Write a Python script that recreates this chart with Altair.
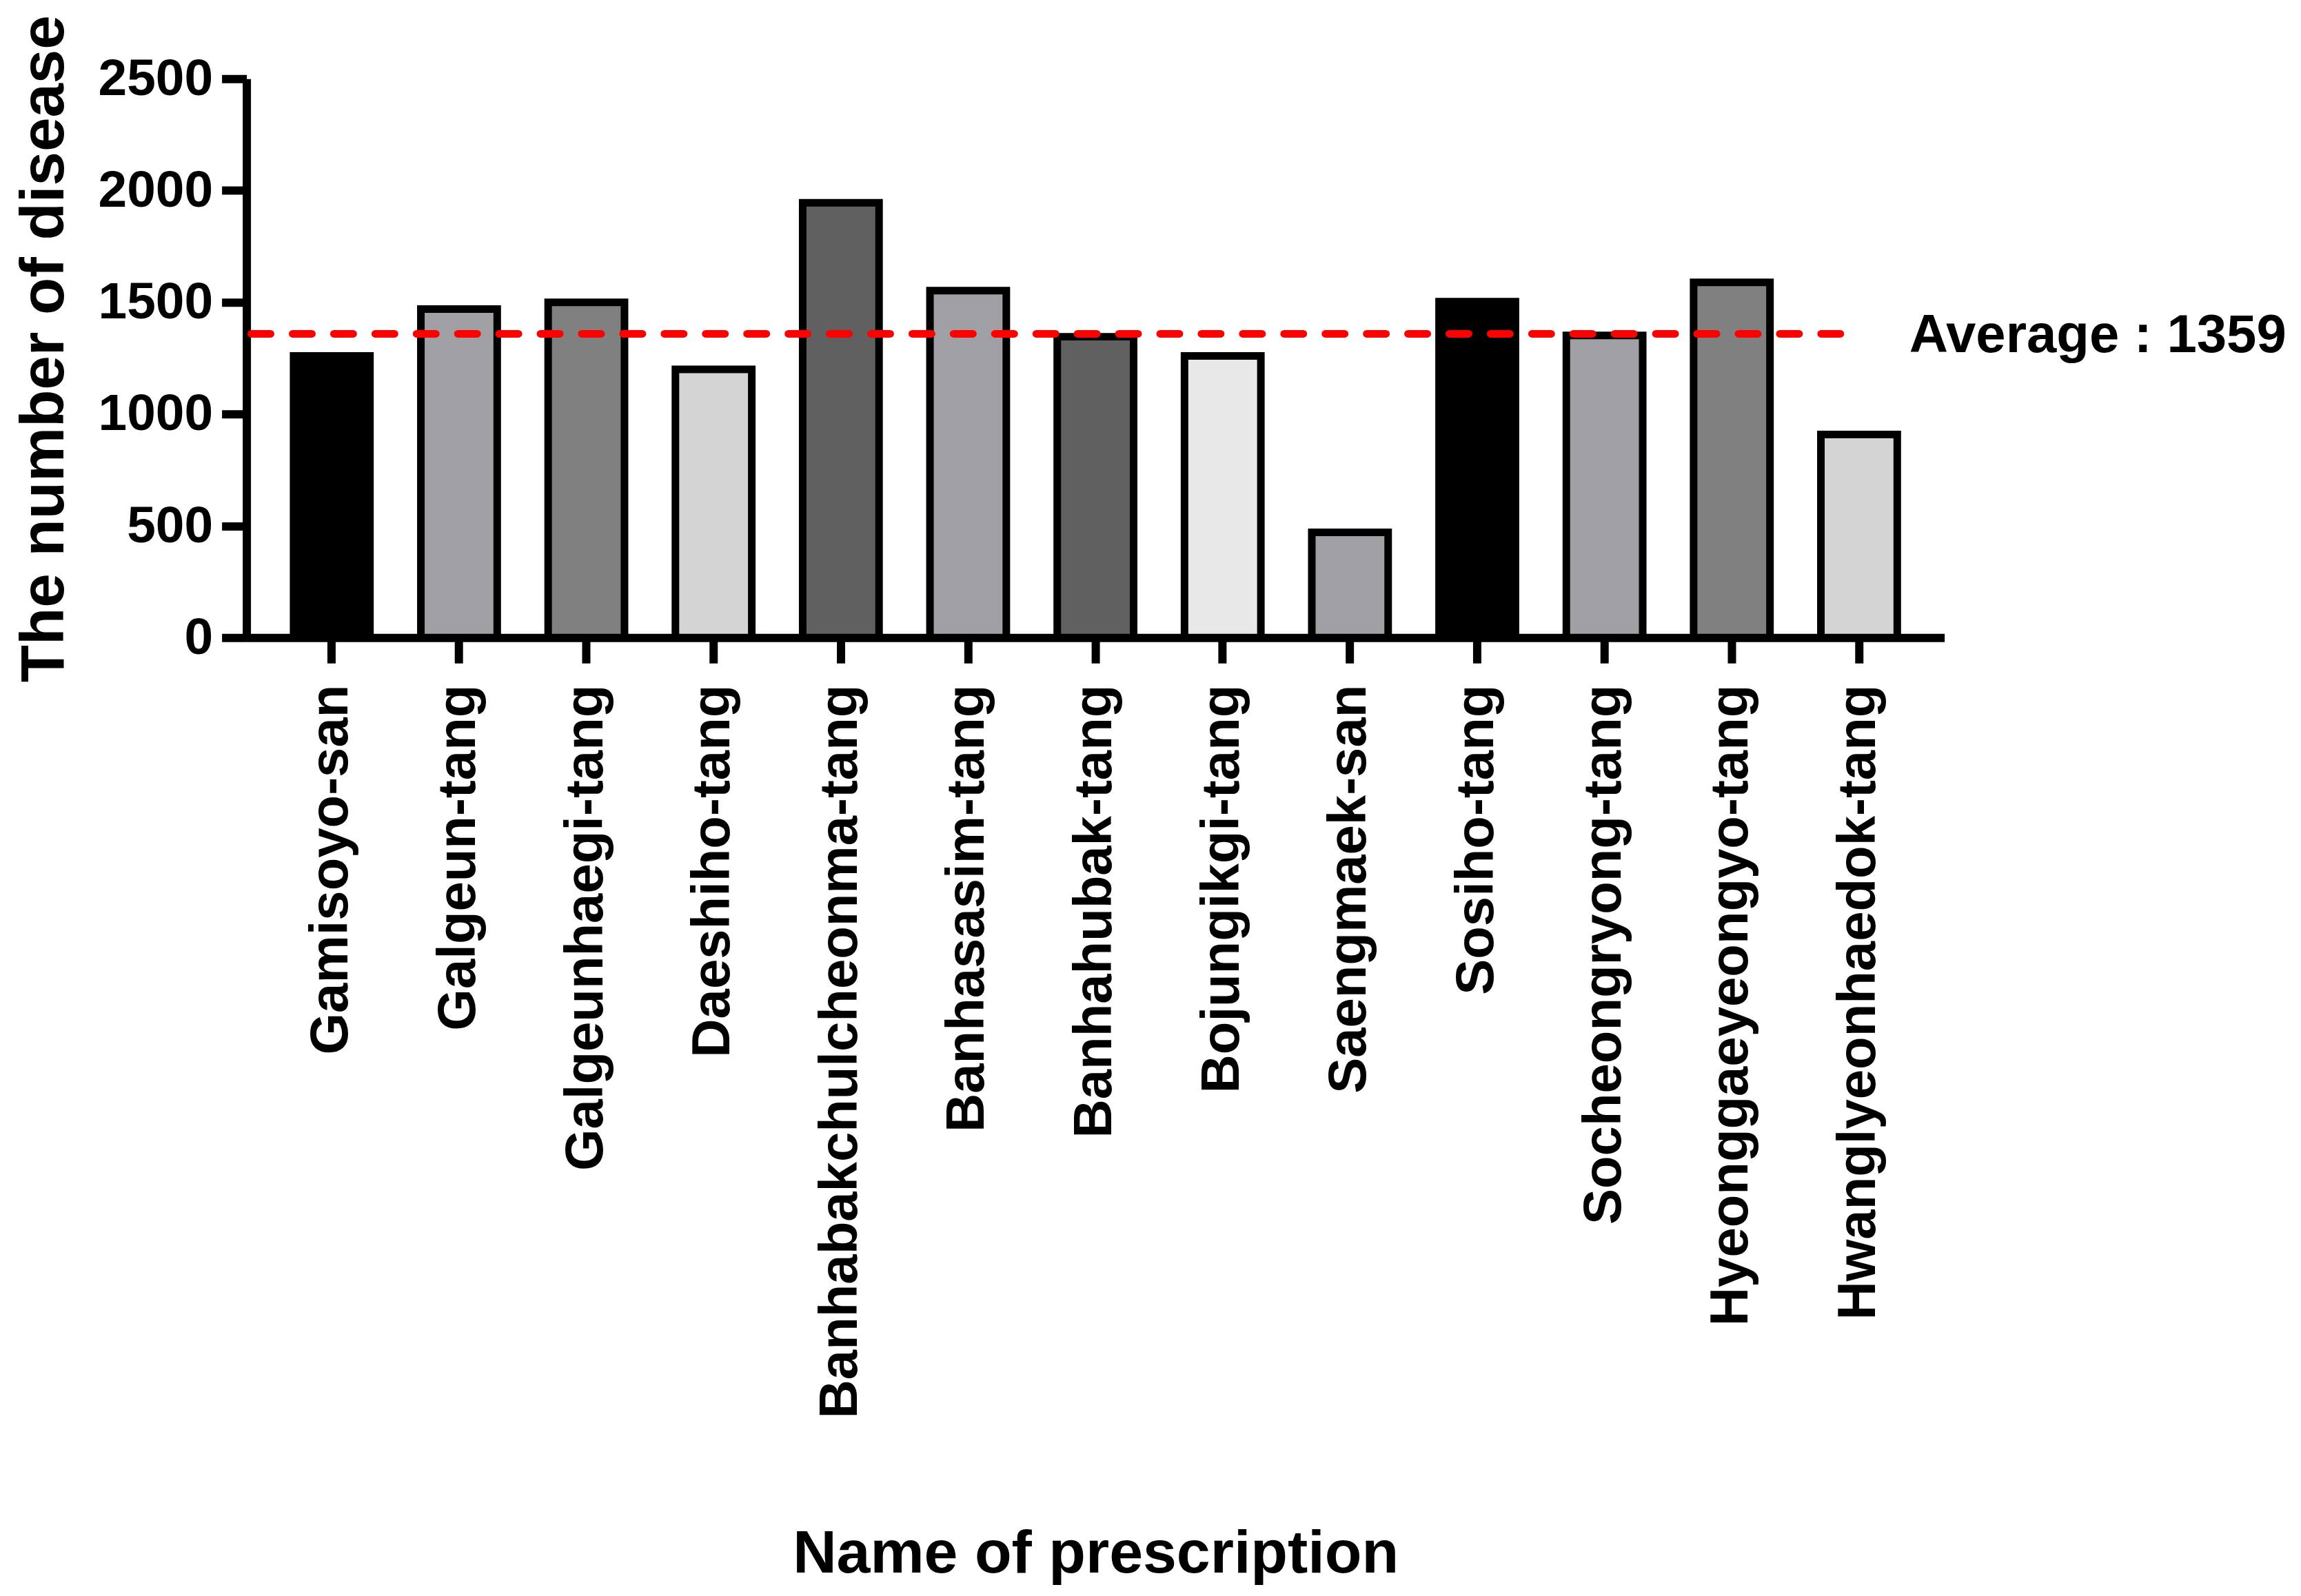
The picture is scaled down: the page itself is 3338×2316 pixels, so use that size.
import altair as alt
import pandas as pd

# ---- data ----
prescriptions = [
    "Gamisoyo-san", "Galgeun-tang", "Galgeunhaegi-tang", "Daeshiho-tang",
    "Banhabakchulcheonma-tang", "Banhasasim-tang", "Banhahubak-tang",
    "Bojungikgi-tang", "Saengmaek-san", "Sosiho-tang", "Socheongryong-tang",
    "Hyeonggaeyeongyo-tang", "Hwanglyeonhaedok-tang",
]
disease_counts = [1260, 1470, 1500, 1200, 1945, 1552, 1346, 1260, 471, 1503, 1352, 1589, 909]
bar_fills = ["#000000", "#a0a0a4", "#808080", "#d4d4d4", "#606060", "#a0a0a4",
             "#606060", "#e8e8e8", "#a0a0a4", "#000000", "#a0a0a4", "#808080", "#d4d4d4"]
y_ticks = [0, 500, 1000, 1500, 2000, 2500]
average_value = 1359
average_label = "Average : 1359"

df = pd.DataFrame({"name": prescriptions, "count": disease_counts})
avg_df = pd.DataFrame({"avg": [average_value], "label": [average_label]})

FONT = "Liberation Sans"

x_enc = alt.X(
    "name:N",
    sort=prescriptions,
    scale=alt.Scale(paddingInner=0.4, paddingOuter=0.37),
    axis=alt.Axis(
        title="Name of prescription",
        titleFontSize=88,
        titleFont=FONT,
        titleFontWeight="bold",
        titleColor="black",
        titleY=1358,
        titleBaseline="alphabetic",
        labelAngle=270,
        labelAlign="right",
        labelBaseline="middle",
        labelFontSize=78,
        labelFont=FONT,
        labelFontWeight="bold",
        labelColor="black",
        labelPadding=31,
        labelLimit=3000,
        labelOverlap=False,
        tickSize=37,
        tickWidth=12,
        tickColor="black",
        domainWidth=12,
        domainColor="black",
        grid=False,
    ),
)

y_enc = alt.Y(
    "count:Q",
    scale=alt.Scale(domain=[0, 2500], nice=False),
    axis=alt.Axis(
        values=y_ticks,
        format="d",
        title="The number of disease",
        titleFontSize=89,
        titleFont=FONT,
        titleFontWeight="bold",
        titleColor="black",
        titleAngle=270,
        titleX=-266,
        titleY=392,
        titleAlign="center",
        titleBaseline="alphabetic",
        labelFontSize=75,
        labelFont=FONT,
        labelFontWeight="bold",
        labelColor="black",
        labelPadding=13,
        labelLimit=1000,
        labelOverlap=False,
        tickSize=36,
        tickWidth=12,
        tickColor="black",
        domainWidth=12,
        domainColor="black",
        grid=False,
    ),
)

bars = alt.Chart(df).mark_bar(stroke="black", strokeWidth=11).encode(
    x=x_enc,
    y=y_enc,
    color=alt.Color("name:N", scale=alt.Scale(domain=prescriptions, range=bar_fills), legend=None),
)

rule = alt.Chart(avg_df).mark_rule(
    color="#ff0000", strokeWidth=11, strokeDash=[28, 32], strokeCap="round"
).encode(
    y="avg:Q",
    x=alt.value(7),
    x2=alt.value(2347),
)

label = alt.Chart(avg_df).mark_text(
    align="left", baseline="middle", fontSize=78, fontWeight="bold", font=FONT,
    color="black", dy=4,
).encode(
    y="avg:Q",
    x=alt.value(2415),
    text="label:N",
)

chart = alt.layer(bars, rule, label).properties(
    width=2466,
    height=812,
    autosize=alt.AutoSizeParams(type="none"),
    padding={"left": 350, "top": 105, "right": 510, "bottom": 1383},
    background="white",
).configure_view(stroke=None)

chart.save("out.html", embed_options={"renderer": "svg", "actions": False})
